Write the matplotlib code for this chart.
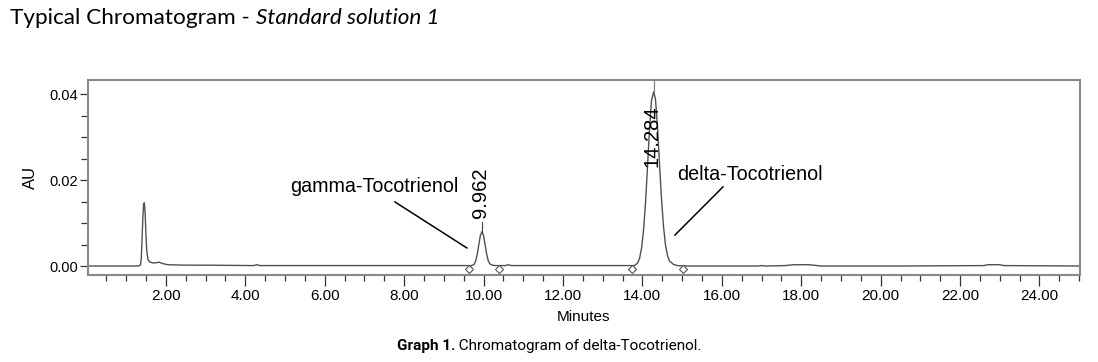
import matplotlib
matplotlib.use("Agg")
import matplotlib.pyplot as plt
from matplotlib.ticker import MultipleLocator, FormatStrFormatter

# ---- data ----
time_min = [0.04, 1.30, 1.36, 1.38, 1.40, 1.42, 1.44, 1.46, 1.48, 1.50, 1.52, 1.55,
            1.60, 1.70, 1.78, 1.83, 1.88, 1.95, 2.05, 2.50, 3.00, 4.20, 4.30, 4.36,
            6.00, 8.00, 9.60, 9.70, 9.76, 9.80, 9.84, 9.88, 9.92, 9.962, 10.00,
            10.04, 10.08, 10.12, 10.16, 10.22, 10.30, 10.55, 10.62, 10.70, 12.00,
            13.80, 13.88, 13.93, 13.98, 14.03, 14.08, 14.13, 14.18, 14.23, 14.284,
            14.33, 14.38, 14.43, 14.48, 14.53, 14.58, 14.63, 14.68, 14.78, 14.88,
            15.10, 16.90, 17.00, 17.10, 17.60, 17.80, 18.20, 18.40, 18.50, 20.50,
            22.60, 22.70, 23.00, 23.10, 25.02]
absorbance = [0.0000, 0.0000, 0.0002, 0.0015, 0.0060, 0.0110, 0.0145, 0.0147, 0.0120, 0.0070, 0.0035, 0.0015,
              0.0009, 0.0007, 0.0008, 0.0009, 0.0007, 0.0005, 0.0003, 0.0002, 0.0002, 0.0001, 0.0003, 0.0001,
              0.0001, 0.0001, 0.0001, 0.0001, 0.00035, 0.0011, 0.0026, 0.0049, 0.0071, 0.0080, 0.0071,
              0.0049, 0.0027, 0.0012, 0.0005, 0.0002, 0.0001, 0.0001, 0.0003, 0.0001, 0.0001,
              0.0001, 0.0007, 0.0018, 0.0042, 0.0084, 0.0148, 0.0232, 0.0319, 0.0385, 0.0405,
              0.0388, 0.0325, 0.0240, 0.0158, 0.0094, 0.0050, 0.0025, 0.0012, 0.0004, 0.0001,
              0.0000, 0.0000, 0.0001, 0.0000, 0.0001, 0.0003, 0.0003, 0.0001, 0.0000, 0.0000,
              0.0001, 0.0003, 0.0003, 0.0001, 0.0000]

peak_rt = [9.962, 14.284]
peak_height = [0.0080, 0.0405]
peak_labels = ["9.962", "14.284"]
baseline_marks_t = [9.63, 10.39, 13.74, 15.02]
baseline_marks_y = [-0.0007, -0.0007, -0.0007, -0.0007]

compound_names = ["gamma-Tocotrienol", "delta-Tocotrienol"]

# ---- figure ----
fig = plt.figure(figsize=(10.98, 3.62), dpi=100)
ax = fig.add_axes([88 / 1098, 87 / 362, 992 / 1098, 195 / 362])

ax.plot(time_min, absorbance, color="#505050", lw=1.0)
ax.plot(baseline_marks_t, baseline_marks_y, linestyle="none", marker="D",
        markersize=4.5, markerfacecolor="white", markeredgecolor="#555555",
        markeredgewidth=0.8)

ax.set_xlim(0.04, 25.02)
ax.set_ylim(-0.00209, 0.04326)

# retention time labels
ax.plot([peak_rt[0], peak_rt[0]], [peak_height[0], peak_height[0] + 0.0023],
        color="#444444", lw=0.8)
ax.text(peak_rt[0] - 0.03, peak_height[0] + 0.0031, peak_labels[0], rotation=90,
        ha="center", va="bottom", fontsize=14.5, family="Liberation Sans")
ax.plot([peak_rt[1], peak_rt[1]], [peak_height[1], 0.04326],
        color="#777777", lw=0.8)
ax.text(peak_rt[1] - 0.05, 0.0230, peak_labels[1], rotation=90,
        ha="center", va="bottom", fontsize=14.5, family="Liberation Sans")

# compound annotations
ax.text(5.12, 0.0186, compound_names[0], ha="left", va="center",
        fontsize=14.2, family="Liberation Sans")
ax.plot([7.77, 9.58], [0.0149, 0.0042], color="black", lw=1.1)
ax.text(14.87, 0.0212, compound_names[1], ha="left", va="center",
        fontsize=14.2, family="Liberation Sans")
ax.plot([16.03, 14.82], [0.0184, 0.0072], color="black", lw=1.1)

# axes styling
for s in ax.spines.values():
    s.set_color("#888888")
    s.set_linewidth(1.5)
ax.xaxis.set_major_locator(MultipleLocator(2))
ax.xaxis.set_minor_locator(MultipleLocator(0.5))
ax.xaxis.set_major_formatter(FormatStrFormatter("%.2f"))
ax.yaxis.set_major_locator(MultipleLocator(0.02))
ax.yaxis.set_minor_locator(MultipleLocator(0.005))
ax.yaxis.set_major_formatter(FormatStrFormatter("%.2f"))
ax.tick_params(axis="both", which="both", direction="out", color="#333333", width=0.9)
ax.tick_params(axis="x", which="major", length=8, pad=2, labelsize=11)
ax.tick_params(axis="x", which="minor", length=4)
ax.tick_params(axis="y", which="major", length=6, pad=1, labelsize=10.5)
ax.tick_params(axis="y", which="minor", length=5)
for lab in ax.get_xticklabels() + ax.get_yticklabels():
    lab.set_family("Liberation Sans")

ax.set_xlabel("Minutes", fontsize=11, family="Liberation Sans", labelpad=5)
ax.set_ylabel("AU", fontsize=12, family="Liberation Sans", labelpad=8)

# title
title_y = 1 - 18 / 362
t1 = fig.text(10 / 1098, title_y, "Typical Chromatogram - ", fontsize=16.2,
              family="Lato", ha="left", va="center")
fig.canvas.draw()
bb = t1.get_window_extent()
fig.text(bb.x1 / 1098, title_y, "Standard solution 1", fontsize=16.2,
         family="Lato", style="italic", ha="left", va="center")

# caption
cap_y = 1 - 346 / 362
c1 = fig.text(0.5, cap_y, "Graph 1.", fontsize=11, weight="bold",
              family="Roboto", ha="left", va="center", alpha=0)
c2 = fig.text(0.5, cap_y, " Chromatogram of delta-Tocotrienol.", fontsize=11,
              family="Roboto", ha="left", va="center", alpha=0)
fig.canvas.draw()
w1 = c1.get_window_extent().width
w2 = c2.get_window_extent().width
x0 = 549 - (w1 + w2) / 2
c1.set_x(x0 / 1098); c1.set_alpha(1)
c2.set_x((x0 + w1) / 1098); c2.set_alpha(1)

fig.savefig("out.png", dpi=100)
